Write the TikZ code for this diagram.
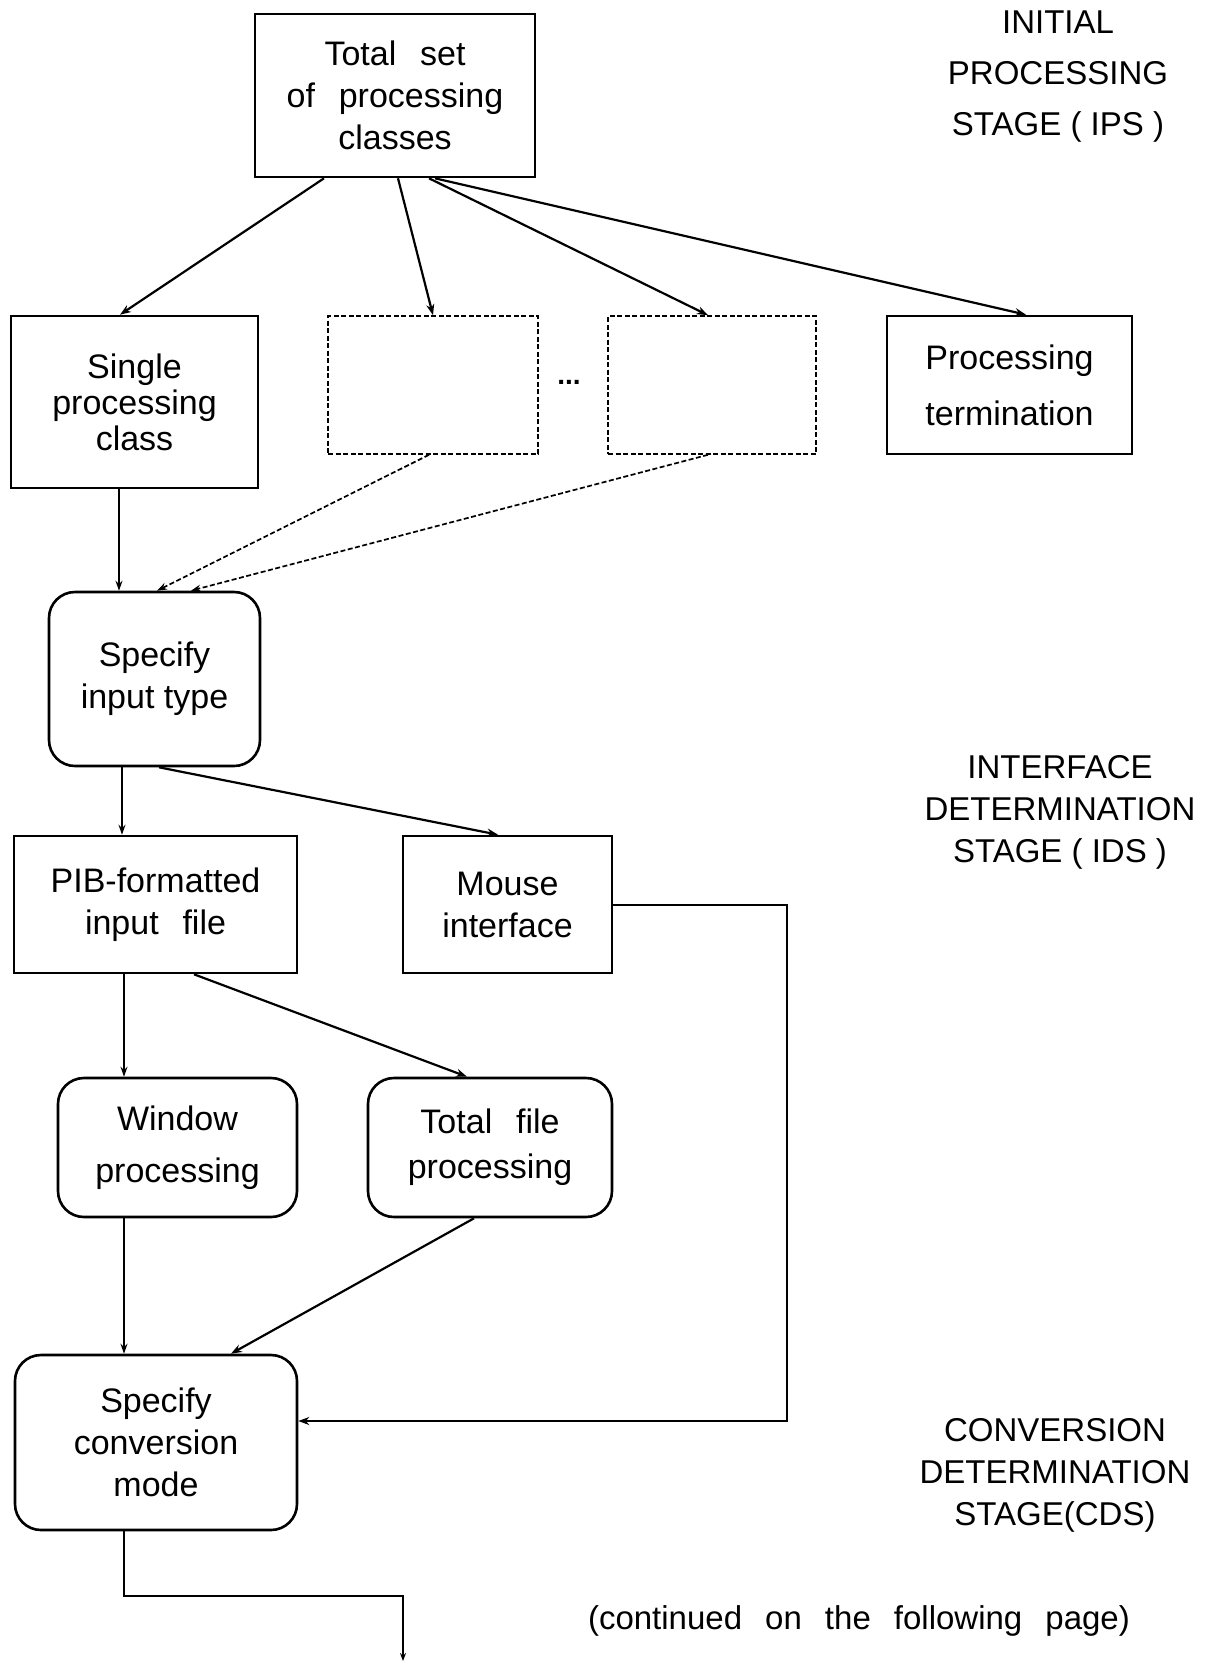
\documentclass[tikz,border=0pt]{standalone}
\usepackage{fontspec}
\setmainfont{Liberation Sans}
\usetikzlibrary{arrows.meta,calc}
\newcommand{\ws}{\hspace{0.7em}}
\begin{document}
\begin{tikzpicture}[x=1pt,y=-1pt,
  every node/.style={font=\fontsize{34}{42}\selectfont, align=center, inner sep=0pt},
  sqbox/.style={draw, line width=2.6pt},
  dbox/.style={draw, line width=1.6pt, dash pattern=on 5pt off 2.5pt},
  rbox/.style={draw, line width=2.6pt, rounded corners=26pt},
  arr/.style={line width=2.2pt, -{Stealth[length=11pt,width=8pt]}},
  thin/.style={line width=1.5pt, -{Stealth[length=10pt,width=7pt]}},
  darr/.style={line width=1.7pt, dash pattern=on 5pt off 2.5pt, -{Stealth[length=10pt,width=7pt]}},
  lbl/.style={font=\fontsize{33}{42}\selectfont}
]
\useasboundingbox (0,0) rectangle (1214,1663);

% boxes
\node[sqbox, minimum width=280pt, minimum height=163pt] (top) at (395,95.5)
  {Total\ws set\\of\ws processing\\classes};
\node[sqbox, minimum width=247pt, minimum height=172pt,
      font=\fontsize{34}{36}\selectfont] (single) at (134.5,402)
  {Single\\processing\\class};
\node[dbox, minimum width=210pt, minimum height=138pt] (d1) at (433,385) {};
\node[dbox, minimum width=208pt, minimum height=138pt] (d2) at (712,385) {};
\node[font=\bfseries\fontsize{28}{30}\selectfont] (dots) at (569,382) {...};
\node[sqbox, minimum width=245pt, minimum height=138pt,
      font=\fontsize{34}{56}\selectfont] (term) at (1009.5,385)
  {Processing\\termination};
\node[rbox, minimum width=211pt, minimum height=174pt] (spec) at (154.5,679)
  {Specify\\input type};
\node[sqbox, minimum width=283pt, minimum height=137pt] (pib) at (155.5,904.5)
  {PIB-formatted\\input\ws file};
\node[sqbox, minimum width=209pt, minimum height=137pt] (mouse) at (507.5,904.5)
  {Mouse\\interface};
\node[rbox, minimum width=239pt, minimum height=139pt,
      font=\fontsize{34}{52}\selectfont] (win) at (177.5,1147.5)
  {Window\\processing};
\node[rbox, minimum width=244pt, minimum height=139pt,
      font=\fontsize{34}{45}\selectfont] (tot) at (490,1147.5)
  {Total\ws file\\processing};
\node[rbox, minimum width=282pt, minimum height=175pt] (conv) at (156,1442.5)
  {Specify\\conversion\\mode};

% stage labels
\node[lbl, font=\fontsize{33}{51}\selectfont] (ips) at (1058,77)
  {INITIAL\\PROCESSING\\STAGE ( IPS )};
\node[lbl] (ids) at (1060,812)
  {INTERFACE\\DETERMINATION\\STAGE ( IDS )};
\node[lbl] (cds) at (1055,1475)
  {CONVERSION\\DETERMINATION\\STAGE(CDS)};
\node[lbl] (cont) at (859,1621)
  {(continued\ws on\ws the\ws following\ws page)};

% connectors top
\draw[arr] ([xshift=-71pt]top.south) -- ([xshift=-14.5pt]single.north);
\draw[arr] ([xshift=3pt]top.south) -- (d1.north);
\draw[arr] ([xshift=34pt]top.south) -- ([xshift=-4pt]d2.north);
\draw[arr] ([xshift=40pt]top.south) -- ([xshift=16.5pt]term.north);

% into specify input
\draw[thin] ([xshift=-15.5pt]single.south) -- ([xshift=-35.5pt]spec.north);
\draw[darr] ([xshift=-4pt]d1.south) -- ([xshift=2.5pt]spec.north);
\draw[darr] ([xshift=-4pt]d2.south) -- ([xshift=36.5pt]spec.north);

% specify input -> pib / mouse
\draw[thin] ([xshift=-32.5pt]spec.south) -- ([xshift=-33.5pt]pib.north);
\draw[arr] ([xshift=4.5pt]spec.south) -- ([xshift=-9.5pt]mouse.north);

% pib -> window / total
\draw[thin] ([xshift=-31.5pt]pib.south) -- ([xshift=-53.5pt]win.north);
\draw[arr] ([xshift=38.5pt]pib.south) -- ([xshift=-23pt]tot.north);

% -> conv
\draw[thin] ([xshift=-53.5pt]win.south) -- ([xshift=-32pt]conv.north);
\draw[arr] ([xshift=-16pt]tot.south) -- ([xshift=75pt]conv.north);
\draw[line width=2pt, -{Stealth[length=11pt,width=8pt]}]
  (mouse.east) -- ++(174,0) |- ([yshift=21.5pt]conv.east);

% continuation
\coordinate (contend) at (403,1661);
\draw[line width=2pt, -{Stealth[length=8pt,width=6pt]}]
  ([xshift=-32pt]conv.south) |- (403,1596) -- (contend);
\end{tikzpicture}
\end{document}
